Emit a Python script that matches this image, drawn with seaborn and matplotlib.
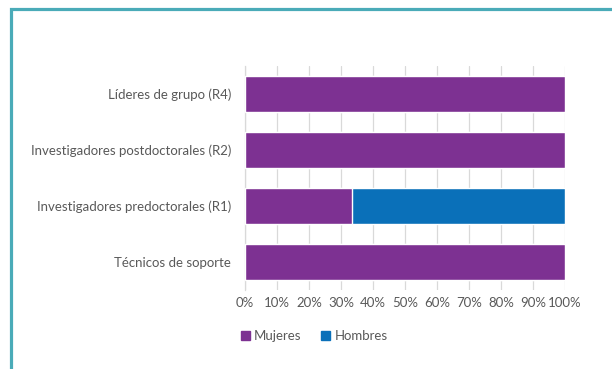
import matplotlib
matplotlib.use("Agg")
import matplotlib.pyplot as plt
from matplotlib.patches import Rectangle, Patch
from matplotlib.ticker import PercentFormatter
import seaborn as sns
import pandas as pd

# data
categorias = ["Líderes de grupo (R4)", "Investigadores postdoctorales (R2)",
              "Investigadores predoctorales (R1)", "Técnicos de soporte"]
mujeres = [100, 100, 33.3, 100]
hombres = [0, 0, 66.7, 0]

COLOR_MUJERES = "#7d3192"
COLOR_HOMBRES = "#0a70b9"
TEXT_COLOR = "#595959"

df = pd.DataFrame({"categoria": categorias, "Mujeres": mujeres, "Hombres": hombres})
df["total"] = df["Mujeres"] + df["Hombres"]

sns.set_theme(style="white")
plt.rcParams["font.family"] = ["Lato", "DejaVu Sans"]

fig = plt.figure(figsize=(6.12, 3.69), dpi=100)
ax = fig.add_axes([245 / 612, 1 - 290 / 369, 320 / 612, 224 / 369])

# stacked bars: total in blue, women on top of it
sns.barplot(data=df, y="categoria", x="total", color=COLOR_HOMBRES, width=0.64,
            saturation=1, ax=ax, zorder=2)
sns.barplot(data=df, y="categoria", x="Mujeres", color=COLOR_MUJERES, width=0.64,
            saturation=1, ax=ax, zorder=3)

ax.set_xlim(0, 100)
ax.set_ylim(3.5, -0.5)
ax.set_xticks(range(0, 101, 10))
ax.xaxis.set_major_formatter(PercentFormatter(decimals=0))
ax.set_xlabel("")
ax.set_ylabel("")
ax.grid(axis="x", color="#d9d9d9", lw=0.9, zorder=0)
ax.set_axisbelow(True)
for s in ["top", "right", "bottom"]:
    ax.spines[s].set_visible(False)
ax.spines["left"].set_color("#d9d9d9")
ax.spines["left"].set_linewidth(0.9)
ax.tick_params(axis="both", length=0, labelsize=9.5, labelcolor=TEXT_COLOR)
ax.tick_params(axis="y", pad=10)
ax.tick_params(axis="x", pad=5)

handles = [Patch(color=COLOR_MUJERES, label="Mujeres"),
           Patch(color=COLOR_HOMBRES, label="Hombres")]
fig.legend(handles=handles, loc="center", bbox_to_anchor=(314 / 612, 1 - 336 / 369),
           ncol=2, frameon=False, fontsize=9.5, handlelength=0.7, handleheight=0.7,
           handletextpad=0.3, columnspacing=1.5, labelcolor=TEXT_COLOR)

# teal frame around the figure (cut at right and bottom)
fig.patches.append(Rectangle((11 / 612, -0.1), 1.2, 1 - 9.5 / 369 + 0.1,
                             transform=fig.transFigure, fill=False,
                             edgecolor="#4aabb8", lw=2.3))

fig.savefig("out.png", dpi=100)
